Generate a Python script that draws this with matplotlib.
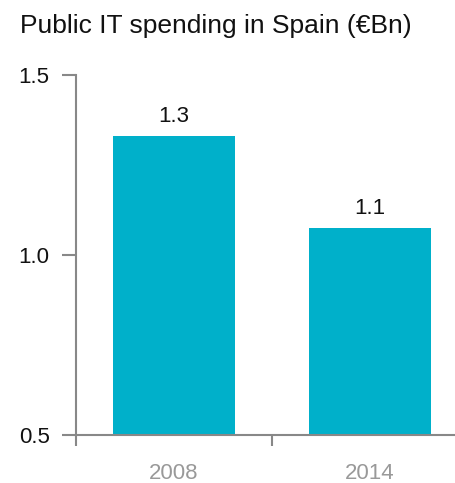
import matplotlib
matplotlib.use("Agg")
import matplotlib.pyplot as plt

years = ["2008", "2014"]
spending = [1.33, 1.075]

plt.rcParams["font.family"] = ["Liberation Sans", "DejaVu Sans"]

fig = plt.figure(figsize=(4.56, 4.83), dpi=100)
ax = fig.add_axes([76/456, 48/483, 1 - 76/456, (435-75)/483])

x = list(range(len(years)))
ax.bar(x, spending, width=0.62, bottom=0, color="#00b0ca", zorder=2)
for xi, v in zip(x, spending):
    ax.text(xi, v + 0.025, "%.1f" % v, ha="center", va="bottom", fontsize=16, color="#111111")

ax.set_ylim(0.5, 1.5)
ax.set_xlim(-0.5, -0.5 + 380/196)
ax.set_yticks([0.5, 1.0, 1.5])
ax.set_yticklabels(["0.5", "1.0", "1.5"], fontsize=16, color="#111111")

# category labels sit under the bars, tick marks at the category boundaries
ax.set_xticks(x)
ax.set_xticklabels(years, fontsize=16, color="#999999")
ax.tick_params(axis="x", which="major", length=0, pad=20)
ax.set_xticks([-0.5, 0.5], minor=True)
ax.tick_params(axis="x", which="minor", length=8, width=1.5, color="#888888", direction="out")
ax.tick_params(axis="y", length=10, width=1.5, color="#888888", pad=9)

for side in ["top", "right"]:
    ax.spines[side].set_visible(False)
for side in ["left", "bottom"]:
    ax.spines[side].set_color("#888888")
    ax.spines[side].set_linewidth(1.5)
ax.spines["bottom"].set_zorder(3)

fig.text(20/456, 1 - 14/483, "Public IT spending in Spain (\u20acBn)", fontsize=19,
         ha="left", va="top", color="#111111")

fig.savefig("out.png", dpi=100)
